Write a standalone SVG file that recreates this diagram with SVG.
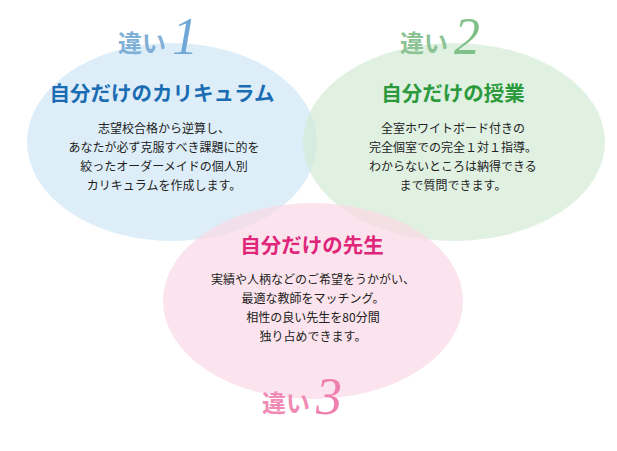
<svg xmlns="http://www.w3.org/2000/svg" width="617" height="451" viewBox="0 0 617 451">
<style>
.b{font-family:"Noto Sans CJK JP","Noto Sans",sans-serif;font-size:12px;fill:#222;text-anchor:middle}
.h{font-family:"Noto Sans CJK JP",sans-serif;font-size:20.5px;font-weight:bold;text-anchor:middle}
.w{font-family:"Noto Sans CJK JP",serif;font-weight:bold;font-size:24px}
.n{font-family:"Liberation Serif",serif;font-style:italic;font-size:52px}
</style>
<rect width="617" height="451" fill="#fff"/>
<g id="blue"><ellipse cx="172" cy="142" rx="145" ry="99" fill="#d6eaf8" fill-opacity="0.8"/>
<text x="118" y="52" class="w" fill="#7fb0d8">違い</text><text x="172" y="54" class="n" fill="#6fa8d6">1</text>
<text x="162" y="101" class="h" fill="#1a6db3">自分だけのカリキュラム</text>
<text class="b"><tspan x="164" y="133">志望校合格から逆算し、</tspan><tspan x="164" y="152">あなたが必ず克服すべき課題に的を</tspan><tspan x="164" y="171">絞ったオーダーメイドの個人別</tspan><tspan x="164" y="190">カリキュラムを作成します。</tspan></text></g>
<g id="green"><ellipse cx="454" cy="142" rx="151" ry="99" fill="#d3ebd5" fill-opacity="0.7"/>
<text x="400" y="52" class="w" fill="#8cc394">違い</text><text x="454" y="54" class="n" fill="#7fbf88">2</text>
<text x="453" y="101" class="h" fill="#2c9a3c">自分だけの授業</text>
<text class="b"><tspan x="453" y="133">全室ホワイトボード付きの</tspan><tspan x="453" y="152">完全個室での完全１対１指導。</tspan><tspan x="453" y="171">わからないところは納得できる</tspan><tspan x="453" y="190">まで質問できます。</tspan></text></g>
<g id="pink"><ellipse cx="313" cy="301" rx="150" ry="98" fill="#f9d9e6" fill-opacity="0.7"/>
<text x="312" y="253" class="h" fill="#e0267a">自分だけの先生</text>
<text class="b"><tspan x="313" y="284">実績や人柄などのご希望をうかがい、</tspan><tspan x="313" y="303">最適な教師をマッチング。</tspan><tspan x="313" y="322">相性の良い先生を80分間</tspan><tspan x="313" y="341">独り占めできます。</tspan></text>
<text x="262" y="412" class="w" fill="#f08bb5">違い</text><text x="316" y="414" class="n" fill="#ee7fae">3</text></g>
<g id="connectors"/>
</svg>
